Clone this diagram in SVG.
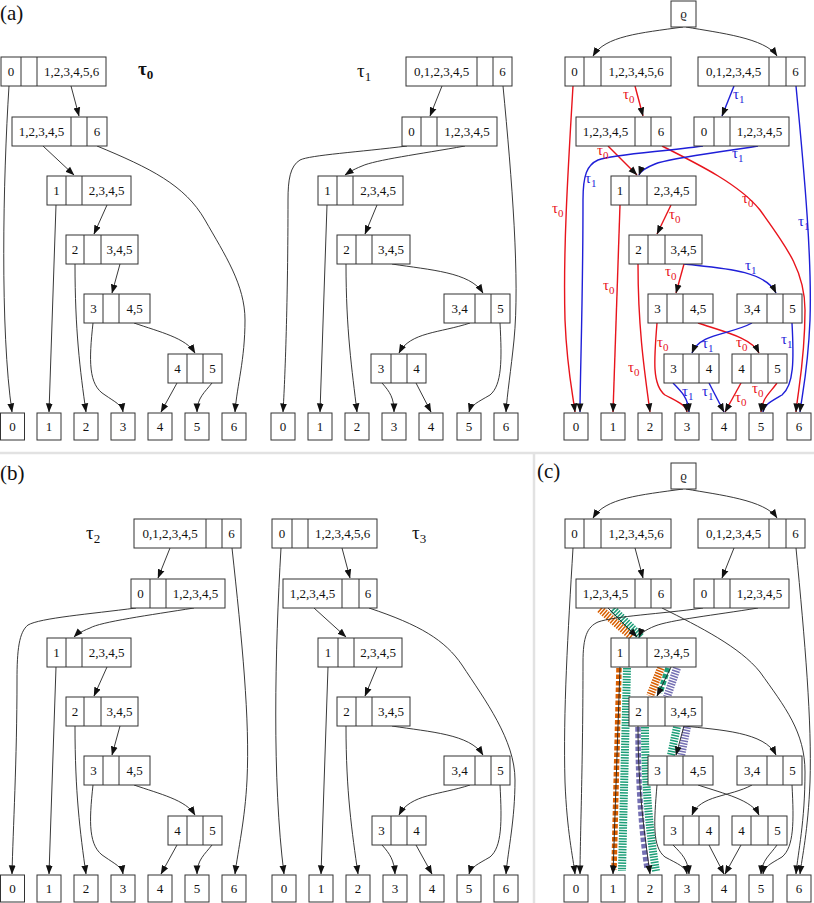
<svg xmlns="http://www.w3.org/2000/svg" width="814" height="903" viewBox="0 0 814 903" font-family="'Liberation Serif', 'DejaVu Serif', serif">
<defs>
<marker id="ah" viewBox="0 0 10 10" refX="9.5" refY="5" markerWidth="9" markerHeight="9" markerUnits="userSpaceOnUse" orient="auto"><path d="M0,1.2 L10,5 L0,8.8 z" fill="#111"/></marker>
<style>
.box{fill:#fff;stroke:#333;stroke-width:1}
.dv{fill:none;stroke:#333;stroke-width:1}
.t{font-family:'Liberation Serif','DejaVu Serif',serif;font-size:13px;text-anchor:middle;fill:#111}
.pl{font-family:'Liberation Serif','DejaVu Serif',serif;font-size:21px;fill:#111}
.tau{font-family:'Liberation Serif','DejaVu Serif',serif;font-size:19px;fill:#111}
.e{fill:none;stroke:#222;stroke-width:0.9;marker-end:url(#ah)}
.r{stroke:#e8141c;stroke-width:1.4}
.b{stroke:#1f1fd8;stroke-width:1.4}
.lr{font-family:'Liberation Serif','DejaVu Serif',serif;font-size:15px;fill:#e8141c}
.lb{font-family:'Liberation Serif','DejaVu Serif',serif;font-size:15px;fill:#1f1fd8}
.hat{fill:none;stroke-width:8;stroke-dasharray:1.5 1.2}
.sq{fill:none;stroke-width:5.5;stroke-dasharray:4.5 2}
.or{stroke:#d95f02}.gr{stroke:#1b9e77}.pu{stroke:#7570b3}
.sep{stroke:#e2e2e2;stroke-width:2.5;fill:none}
</style>
</defs>
<rect width="814" height="903" fill="#fff"/>
<g id="separators"><path class="sep" d="M0,453 H814 M534,453 V903"/></g>
<g id="panel-labels">
<text class="pl" x="0" y="20">(a)</text>
<text class="pl" x="0" y="480">(b)</text>
<text class="pl" x="537" y="478">(c)</text>
<text class="tau" x="138" y="75" font-weight="bold">τ<tspan dy="4" font-size="13">0</tspan></text>
<text class="tau" x="357" y="77">τ<tspan dy="4" font-size="13">1</tspan></text>
<text class="tau" x="86" y="539">τ<tspan dy="4" font-size="13">2</tspan></text>
<text class="tau" x="412" y="539">τ<tspan dy="4" font-size="13">3</tspan></text>
</g>

<!-- ========== connectors ========== -->
<g id="connectors">
<g id="c-tau0">
<path class="e" d="M9,86 C3,180 0,330 12,412"/>
<path class="e" d="M71,86 L79,116"/>
<path class="e" d="M43,146 L74,175"/>
<path class="e" d="M97,146 C150,168 185,185 205,220 C225,255 245,285 245,320 C245,360 237,385 235,412"/>
<path class="e" d="M56,205 L49,412"/>
<path class="e" d="M107,205 L94,234"/>
<path class="e" d="M75,264 C75,330 80,370 86,412"/>
<path class="e" d="M120,264 L112,293"/>
<path class="e" d="M93,323 C89,360 88,385 105,395 C115,402 122,405 123,412"/>
<path class="e" d="M134,323 C160,332 186,338 195,353"/>
<path class="e" d="M177,383 L161,412"/>
<path class="e" d="M212,383 C205,392 197,398 197,412"/>
</g>
<g id="c-tau1">
<path class="e" d="M442,86 L430,116"/>
<path class="e" d="M503,86 C512,180 520,280 514,340 C511,370 507,395 506,412"/>
<path class="e" d="M407,146 C360,152 310,155 300,160 C290,166 288,180 288,200 C288,300 285,380 283,412"/>
<path class="e" d="M465,146 C420,154 375,160 362,166 C352,170 348,173 345,175"/>
<path class="e" d="M327,205 L320,412"/>
<path class="e" d="M377,205 L365,234"/>
<path class="e" d="M346,264 C346,330 352,370 357,412"/>
<path class="e" d="M392,264 C430,270 470,272 483,293"/>
<path class="e" d="M470,323 C440,333 410,332 399,353"/>
<path class="e" d="M500,323 C502,360 502,385 490,395 C478,402 471,405 469,412"/>
<path class="e" d="M382,383 C390,392 394,398 394,412"/>
<path class="e" d="M416,383 L431,412"/>
</g>
<g id="c-tr">
<path class="e" d="M683,27 C640,33 605,36 593,56"/>
<path class="e" d="M686,27 C720,33 765,38 777,56"/>
<path class="e r" d="M573,86 C568,170 563,250 565,320 C567,370 573,395 575,412"/>
<path class="e r" d="M635,86 L643,116"/>
<path class="e r" d="M608,146 L637,175"/>
<path class="e r" d="M662,146 C700,165 740,185 760,210 C785,245 805,270 805,310 C805,360 798,390 796,412"/>
<path class="e r" d="M620,205 L613,412"/>
<path class="e r" d="M671,205 L657,234"/>
<path class="e r" d="M638,264 C638,330 645,375 650,412"/>
<path class="e r" d="M684,264 L676,293"/>
<path class="e r" d="M657,323 C654,360 652,385 665,395 C678,402 686,405 687,412"/>
<path class="e r" d="M698,323 C725,332 752,338 759,353"/>
<path class="e r" d="M741,383 L725,412"/>
<path class="e r" d="M777,383 C770,393 762,398 761,412"/>
<path class="e b" d="M734,86 L722,116"/>
<path class="e b" d="M796,86 C805,180 812,260 810,320 C808,370 802,395 800,412"/>
<path class="e b" d="M703,146 C660,152 615,154 598,160 C587,165 583,175 583,200 C583,300 580,380 580,412"/>
<path class="e b" d="M758,146 C715,153 670,158 655,164 C645,168 640,172 639,175"/>
<path class="e b" d="M684,264 C720,268 765,270 776,293"/>
<path class="e b" d="M752,323 C730,335 700,333 692,353"/>
<path class="e b" d="M792,323 C794,360 794,385 782,395 C770,402 764,405 763,412"/>
<path class="e b" d="M673,383 C682,392 688,398 689,412"/>
<path class="e b" d="M709,383 L724,412"/>
</g>
<g id="c-tr-labels">
<text class="lr" x="552" y="213">τ<tspan dy="4" font-size="11">0</tspan></text>
<text class="lr" x="623" y="99">τ<tspan dy="4" font-size="11">0</tspan></text>
<text class="lr" x="597" y="155">τ<tspan dy="4" font-size="11">0</tspan></text>
<text class="lr" x="742" y="203">τ<tspan dy="4" font-size="11">0</tspan></text>
<text class="lr" x="669" y="219">τ<tspan dy="4" font-size="11">0</tspan></text>
<text class="lr" x="603" y="290">τ<tspan dy="4" font-size="11">0</tspan></text>
<text class="lr" x="628" y="372">τ<tspan dy="4" font-size="11">0</tspan></text>
<text class="lr" x="665" y="276">τ<tspan dy="4" font-size="11">0</tspan></text>
<text class="lr" x="657" y="347">τ<tspan dy="4" font-size="11">0</tspan></text>
<text class="lr" x="736" y="347">τ<tspan dy="4" font-size="11">0</tspan></text>
<text class="lr" x="735" y="402">τ<tspan dy="4" font-size="11">0</tspan></text>
<text class="lr" x="752" y="393">τ<tspan dy="4" font-size="11">0</tspan></text>
<text class="lb" x="733" y="99">τ<tspan dy="4" font-size="11">1</tspan></text>
<text class="lb" x="585" y="183">τ<tspan dy="4" font-size="11">1</tspan></text>
<text class="lb" x="732" y="158">τ<tspan dy="4" font-size="11">1</tspan></text>
<text class="lb" x="798" y="226">τ<tspan dy="4" font-size="11">1</tspan></text>
<text class="lb" x="745" y="270">τ<tspan dy="4" font-size="11">1</tspan></text>
<text class="lb" x="702" y="348">τ<tspan dy="4" font-size="11">1</tspan></text>
<text class="lb" x="781" y="344">τ<tspan dy="4" font-size="11">1</tspan></text>
<text class="lb" x="682" y="396">τ<tspan dy="4" font-size="11">1</tspan></text>
<text class="lb" x="702" y="396">τ<tspan dy="4" font-size="11">1</tspan></text>
</g>
<g id="c-tau2">
<path class="e" d="M170,548 L158,578"/>
<path class="e" d="M232,548 C242,640 250,720 247,780 C245,820 238,850 235,874"/>
<path class="e" d="M136,608 C90,614 40,618 28,625 C19,632 17,650 17,680 C17,760 13,830 12,874"/>
<path class="e" d="M194,608 C150,615 100,622 90,628 C80,632 76,635 74,637"/>
<g transform="translate(0,462)">
<path class="e" d="M56,205 L49,412"/>
<path class="e" d="M107,205 L94,234"/>
<path class="e" d="M75,264 C75,330 80,370 86,412"/>
<path class="e" d="M120,264 L112,293"/>
<path class="e" d="M93,323 C89,360 88,385 105,395 C115,402 122,405 123,412"/>
<path class="e" d="M134,323 C160,332 186,338 195,353"/>
<path class="e" d="M177,383 L161,412"/>
<path class="e" d="M212,383 C205,392 197,398 197,412"/>
</g>
</g>
<g id="c-tau3">
<path class="e" d="M281,548 C275,650 272,780 284,874"/>
<path class="e" d="M342,548 L350,578"/>
<path class="e" d="M314,608 L346,637"/>
<path class="e" d="M369,608 C420,625 445,640 462,665 C485,700 515,740 515,780 C515,820 508,850 506,874"/>
<g transform="translate(0,462)">
<path class="e" d="M328,205 L321,412"/>
<path class="e" d="M377,205 L365,234"/>
<path class="e" d="M346,264 C346,330 352,370 358,412"/>
<path class="e" d="M392,264 C430,270 470,272 483,293"/>
<path class="e" d="M470,323 C440,333 410,332 399,353"/>
<path class="e" d="M500,323 C502,360 502,385 490,395 C478,402 471,405 469,412"/>
<path class="e" d="M382,383 C390,392 394,398 395,412"/>
<path class="e" d="M416,383 L432,412"/>
</g>
</g>
<g id="c-bands">
<path class="hat or" d="M600,609 L632,637"/>
<path class="hat or" d="M661,668 L650,696"/>
<path class="sq or" d="M619,668 L614,870"/>
<path class="hat gr" d="M613,609 L641,637"/>
<path class="hat gr" d="M627,668 L622,871"/>
<path class="hat gr" d="M645,727 C645,790 650,835 656,871"/>
<path class="hat gr" d="M677,727 L671,755"/>
<path class="sq gr" d="M668,668 L660,693"/>
<path class="hat pu" d="M677,668 L667,697"/>
<path class="hat pu" d="M687,727 L681,756"/>
<path class="sq pu" d="M638,727 C638,790 642,835 647,868"/>
</g>
<g id="c-c" transform="translate(0,462)">
<path class="e" d="M683,27 C640,33 605,36 593,56"/>
<path class="e" d="M686,27 C720,33 765,38 777,56"/>
<path class="e" d="M573,86 C568,170 563,250 565,320 C567,370 573,395 575,412"/>
<path class="e" d="M635,86 L643,116"/>
<path class="e" d="M608,146 L637,175"/>
<path class="e" d="M662,146 C700,165 740,185 760,210 C785,245 805,270 805,310 C805,360 798,390 796,412"/>
<path class="e" d="M620,205 L613,412"/>
<path class="e" d="M671,205 L657,234"/>
<path class="e" d="M638,264 C638,330 645,375 650,412"/>
<path class="e" d="M684,264 L676,293"/>
<path class="e" d="M657,323 C654,360 652,385 665,395 C678,402 686,405 687,412"/>
<path class="e" d="M698,323 C725,332 752,338 759,353"/>
<path class="e" d="M741,383 L725,412"/>
<path class="e" d="M777,383 C770,393 762,398 761,412"/>
<path class="e" d="M734,86 L722,116"/>
<path class="e" d="M796,86 C805,180 812,260 810,320 C808,370 802,395 800,412"/>
<path class="e" d="M703,146 C660,152 615,154 598,160 C587,165 583,175 583,200 C583,300 580,380 580,412"/>
<path class="e" d="M758,146 C715,153 670,158 655,164 C645,168 640,172 639,175"/>
<path class="e" d="M684,264 C720,268 765,270 776,293"/>
<path class="e" d="M752,323 C730,335 700,333 692,353"/>
<path class="e" d="M792,323 C794,360 794,385 782,395 C770,402 764,405 763,412"/>
<path class="e" d="M673,383 C682,392 688,398 689,412"/>
<path class="e" d="M709,383 L724,412"/>
</g>
</g>

<g id="t0-n1"><rect class="box" x="1" y="57" width="105" height="29"/><path class="dv" d="M21,57v29M37,57v29"/><text class="t" x="11" y="76">0</text><text class="t" x="71.5" y="76">1,2,3,4,5,6</text></g>
<g id="t0-n2"><rect class="box" x="12" y="117" width="95" height="29"/><path class="dv" d="M71,117v29M87,117v29"/><text class="t" x="41.5" y="136">1,2,3,4,5</text><text class="t" x="97" y="136">6</text></g>
<g id="t0-n3"><rect class="box" x="47" y="176" width="84" height="29"/><path class="dv" d="M66,176v29M82,176v29"/><text class="t" x="56.5" y="195">1</text><text class="t" x="106.5" y="195">2,3,4,5</text></g>
<g id="t0-n4"><rect class="box" x="66" y="235" width="72" height="29"/><path class="dv" d="M84,235v29M101,235v29"/><text class="t" x="75" y="254">2</text><text class="t" x="119.5" y="254">3,4,5</text></g>
<g id="t0-n5"><rect class="box" x="84" y="294" width="66" height="29"/><path class="dv" d="M103,294v29M119,294v29"/><text class="t" x="93.5" y="313">3</text><text class="t" x="134.5" y="313">4,5</text></g>
<g id="t0-n6"><rect class="box" x="168" y="354" width="54" height="29"/><path class="dv" d="M187,354v29M203,354v29"/><text class="t" x="177.5" y="373">4</text><text class="t" x="212.5" y="373">5</text></g>
<g id="t0-l0"><rect class="box" x="0.5" y="413" width="24" height="27"/><text class="t" x="12.5" y="431">0</text></g>
<g id="t0-l1"><rect class="box" x="37" y="413" width="24" height="27"/><text class="t" x="49" y="431">1</text></g>
<g id="t0-l2"><rect class="box" x="74" y="413" width="24" height="27"/><text class="t" x="86" y="431">2</text></g>
<g id="t0-l3"><rect class="box" x="111" y="413" width="24" height="27"/><text class="t" x="123" y="431">3</text></g>
<g id="t0-l4"><rect class="box" x="148" y="413" width="24" height="27"/><text class="t" x="160" y="431">4</text></g>
<g id="t0-l5"><rect class="box" x="185" y="413" width="24" height="27"/><text class="t" x="197" y="431">5</text></g>
<g id="t0-l6"><rect class="box" x="222" y="413" width="24" height="27"/><text class="t" x="234" y="431">6</text></g>

<g id="t1-n1"><rect class="box" x="406" y="57" width="106" height="29"/><path class="dv" d="M477,57v29M493,57v29"/><text class="t" x="441.5" y="76">0,1,2,3,4,5</text><text class="t" x="502.5" y="76">6</text></g>
<g id="t1-n2"><rect class="box" x="402" y="117" width="95" height="29"/><path class="dv" d="M421,117v29M437,117v29"/><text class="t" x="411.5" y="136">0</text><text class="t" x="467" y="136">1,2,3,4,5</text></g>
<g id="t1-n3"><rect class="box" x="318" y="176" width="85" height="29"/><path class="dv" d="M337,176v29M353,176v29"/><text class="t" x="327.5" y="195">1</text><text class="t" x="378" y="195">2,3,4,5</text></g>
<g id="t1-n4"><rect class="box" x="337" y="235" width="73" height="29"/><path class="dv" d="M356,235v29M372,235v29"/><text class="t" x="346.5" y="254">2</text><text class="t" x="391" y="254">3,4,5</text></g>
<g id="t1-n5"><rect class="box" x="444" y="294" width="66" height="29"/><path class="dv" d="M475,294v29M491,294v29"/><text class="t" x="459.5" y="313">3,4</text><text class="t" x="500.5" y="313">5</text></g>
<g id="t1-n6"><rect class="box" x="371" y="354" width="55" height="29"/><path class="dv" d="M391,354v29M407,354v29"/><text class="t" x="381" y="373">3</text><text class="t" x="416.5" y="373">4</text></g>
<g id="t1-l0"><rect class="box" x="271" y="413" width="24" height="27"/><text class="t" x="283" y="431">0</text></g>
<g id="t1-l1"><rect class="box" x="308" y="413" width="24" height="27"/><text class="t" x="320" y="431">1</text></g>
<g id="t1-l2"><rect class="box" x="345" y="413" width="24" height="27"/><text class="t" x="357" y="431">2</text></g>
<g id="t1-l3"><rect class="box" x="382" y="413" width="24" height="27"/><text class="t" x="394" y="431">3</text></g>
<g id="t1-l4"><rect class="box" x="419" y="413" width="24" height="27"/><text class="t" x="431" y="431">4</text></g>
<g id="t1-l5"><rect class="box" x="457" y="413" width="24" height="27"/><text class="t" x="469" y="431">5</text></g>
<g id="t1-l6"><rect class="box" x="494" y="413" width="24" height="27"/><text class="t" x="506" y="431">6</text></g>

<g id="tr-rho"><rect class="box" x="671" y="1" width="25" height="26"/><text class="t" x="683.5" y="18">ϱ</text></g>
<g id="tr-la"><rect class="box" x="565" y="57" width="106" height="29"/><path class="dv" d="M584,57v29M601,57v29"/><text class="t" x="574.5" y="76">0</text><text class="t" x="636" y="76">1,2,3,4,5,6</text></g>
<g id="tr-ra"><rect class="box" x="698" y="57" width="107" height="29"/><path class="dv" d="M769,57v29M786,57v29"/><text class="t" x="733.5" y="76">0,1,2,3,4,5</text><text class="t" x="795.5" y="76">6</text></g>
<g id="tr-lb"><rect class="box" x="576" y="117" width="95" height="29"/><path class="dv" d="M635,117v29M651,117v29"/><text class="t" x="605.5" y="136">1,2,3,4,5</text><text class="t" x="661" y="136">6</text></g>
<g id="tr-rb"><rect class="box" x="694" y="117" width="95" height="29"/><path class="dv" d="M714,117v29M730,117v29"/><text class="t" x="704" y="136">0</text><text class="t" x="759.5" y="136">1,2,3,4,5</text></g>
<g id="tr-c"><rect class="box" x="611" y="176" width="85" height="29"/><path class="dv" d="M629,176v29M647,176v29"/><text class="t" x="620" y="195">1</text><text class="t" x="671.5" y="195">2,3,4,5</text></g>
<g id="tr-d"><rect class="box" x="629" y="235" width="73" height="29"/><path class="dv" d="M648,235v29M665,235v29"/><text class="t" x="638.5" y="254">2</text><text class="t" x="683.5" y="254">3,4,5</text></g>
<g id="tr-e1"><rect class="box" x="648" y="294" width="65" height="29"/><path class="dv" d="M667,294v29M683,294v29"/><text class="t" x="657.5" y="313">3</text><text class="t" x="698" y="313">4,5</text></g>
<g id="tr-e2"><rect class="box" x="737" y="294" width="65" height="29"/><path class="dv" d="M767,294v29M783,294v29"/><text class="t" x="752" y="313">3,4</text><text class="t" x="792.5" y="313">5</text></g>
<g id="tr-f1"><rect class="box" x="664" y="354" width="55" height="29"/><path class="dv" d="M683,354v29M699,354v29"/><text class="t" x="673.5" y="373">3</text><text class="t" x="709" y="373">4</text></g>
<g id="tr-f2"><rect class="box" x="732" y="354" width="55" height="29"/><path class="dv" d="M751,354v29M768,354v29"/><text class="t" x="741.5" y="373">4</text><text class="t" x="777.5" y="373">5</text></g>
<g id="tr-l0"><rect class="box" x="564" y="413" width="24" height="27"/><text class="t" x="576" y="431">0</text></g>
<g id="tr-l1"><rect class="box" x="601" y="413" width="24" height="27"/><text class="t" x="613" y="431">1</text></g>
<g id="tr-l2"><rect class="box" x="638" y="413" width="24" height="27"/><text class="t" x="650" y="431">2</text></g>
<g id="tr-l3"><rect class="box" x="675" y="413" width="24" height="27"/><text class="t" x="687" y="431">3</text></g>
<g id="tr-l4"><rect class="box" x="712" y="413" width="24" height="27"/><text class="t" x="724" y="431">4</text></g>
<g id="tr-l5"><rect class="box" x="749" y="413" width="24" height="27"/><text class="t" x="761" y="431">5</text></g>
<g id="tr-l6"><rect class="box" x="787" y="413" width="24" height="27"/><text class="t" x="799" y="431">6</text></g>

<g id="t2-n1"><rect class="box" x="134" y="519" width="107" height="29"/><path class="dv" d="M206,519v29M222,519v29"/><text class="t" x="170" y="538">0,1,2,3,4,5</text><text class="t" x="231.5" y="538">6</text></g>
<g id="t2-n2"><rect class="box" x="131" y="579" width="94" height="29"/><path class="dv" d="M150,579v29M166,579v29"/><text class="t" x="140.5" y="598">0</text><text class="t" x="195.5" y="598">1,2,3,4,5</text></g>
<g id="t2-n3"><rect class="box" x="47" y="638" width="84" height="29"/><path class="dv" d="M66,638v29M82,638v29"/><text class="t" x="56.5" y="657">1</text><text class="t" x="106.5" y="657">2,3,4,5</text></g>
<g id="t2-n4"><rect class="box" x="66" y="697" width="72" height="29"/><path class="dv" d="M84,697v29M101,697v29"/><text class="t" x="75" y="716">2</text><text class="t" x="119.5" y="716">3,4,5</text></g>
<g id="t2-n5"><rect class="box" x="84" y="756" width="66" height="29"/><path class="dv" d="M103,756v29M119,756v29"/><text class="t" x="93.5" y="775">3</text><text class="t" x="134.5" y="775">4,5</text></g>
<g id="t2-n6"><rect class="box" x="168" y="816" width="54" height="29"/><path class="dv" d="M187,816v29M203,816v29"/><text class="t" x="177.5" y="835">4</text><text class="t" x="212.5" y="835">5</text></g>
<g id="t2-l0"><rect class="box" x="0.5" y="875" width="24" height="27"/><text class="t" x="12.5" y="893">0</text></g>
<g id="t2-l1"><rect class="box" x="37" y="875" width="24" height="27"/><text class="t" x="49" y="893">1</text></g>
<g id="t2-l2"><rect class="box" x="74" y="875" width="24" height="27"/><text class="t" x="86" y="893">2</text></g>
<g id="t2-l3"><rect class="box" x="111" y="875" width="24" height="27"/><text class="t" x="123" y="893">3</text></g>
<g id="t2-l4"><rect class="box" x="148" y="875" width="24" height="27"/><text class="t" x="160" y="893">4</text></g>
<g id="t2-l5"><rect class="box" x="185" y="875" width="24" height="27"/><text class="t" x="197" y="893">5</text></g>
<g id="t2-l6"><rect class="box" x="222" y="875" width="24" height="27"/><text class="t" x="234" y="893">6</text></g>

<g id="t3-n1"><rect class="box" x="272" y="519" width="105" height="29"/><path class="dv" d="M292,519v29M308,519v29"/><text class="t" x="282" y="538">0</text><text class="t" x="342.5" y="538">1,2,3,4,5,6</text></g>
<g id="t3-n2"><rect class="box" x="283" y="579" width="94" height="29"/><path class="dv" d="M342,579v29M359,579v29"/><text class="t" x="312.5" y="598">1,2,3,4,5</text><text class="t" x="368" y="598">6</text></g>
<g id="t3-n3"><rect class="box" x="318" y="638" width="84" height="29"/><path class="dv" d="M338,638v29M354,638v29"/><text class="t" x="328" y="657">1</text><text class="t" x="378" y="657">2,3,4,5</text></g>
<g id="t3-n4"><rect class="box" x="337" y="697" width="73" height="29"/><path class="dv" d="M356,697v29M372,697v29"/><text class="t" x="346.5" y="716">2</text><text class="t" x="391" y="716">3,4,5</text></g>
<g id="t3-n5"><rect class="box" x="444" y="756" width="66" height="29"/><path class="dv" d="M475,756v29M491,756v29"/><text class="t" x="459.5" y="775">3,4</text><text class="t" x="500.5" y="775">5</text></g>
<g id="t3-n6"><rect class="box" x="372" y="816" width="54" height="29"/><path class="dv" d="M391,816v29M407,816v29"/><text class="t" x="381.5" y="835">3</text><text class="t" x="416.5" y="835">4</text></g>
<g id="t3-l0"><rect class="box" x="272" y="875" width="24" height="27"/><text class="t" x="284" y="893">0</text></g>
<g id="t3-l1"><rect class="box" x="309" y="875" width="24" height="27"/><text class="t" x="321" y="893">1</text></g>
<g id="t3-l2"><rect class="box" x="346" y="875" width="24" height="27"/><text class="t" x="358" y="893">2</text></g>
<g id="t3-l3"><rect class="box" x="383" y="875" width="24" height="27"/><text class="t" x="395" y="893">3</text></g>
<g id="t3-l4"><rect class="box" x="420" y="875" width="24" height="27"/><text class="t" x="432" y="893">4</text></g>
<g id="t3-l5"><rect class="box" x="457" y="875" width="24" height="27"/><text class="t" x="469" y="893">5</text></g>
<g id="t3-l6"><rect class="box" x="494" y="875" width="24" height="27"/><text class="t" x="506" y="893">6</text></g>

<g id="c-rho"><rect class="box" x="671" y="463" width="25" height="26"/><text class="t" x="683.5" y="480">ϱ</text></g>
<g id="c-la"><rect class="box" x="565" y="519" width="106" height="29"/><path class="dv" d="M584,519v29M601,519v29"/><text class="t" x="574.5" y="538">0</text><text class="t" x="636" y="538">1,2,3,4,5,6</text></g>
<g id="c-ra"><rect class="box" x="698" y="519" width="107" height="29"/><path class="dv" d="M769,519v29M786,519v29"/><text class="t" x="733.5" y="538">0,1,2,3,4,5</text><text class="t" x="795.5" y="538">6</text></g>
<g id="c-lb"><rect class="box" x="576" y="579" width="95" height="29"/><path class="dv" d="M635,579v29M651,579v29"/><text class="t" x="605.5" y="598">1,2,3,4,5</text><text class="t" x="661" y="598">6</text></g>
<g id="c-rb"><rect class="box" x="694" y="579" width="95" height="29"/><path class="dv" d="M714,579v29M730,579v29"/><text class="t" x="704" y="598">0</text><text class="t" x="759.5" y="598">1,2,3,4,5</text></g>
<g id="c-c1"><rect class="box" x="611" y="638" width="85" height="29"/><path class="dv" d="M629,638v29M647,638v29"/><text class="t" x="620" y="657">1</text><text class="t" x="671.5" y="657">2,3,4,5</text></g>
<g id="c-d"><rect class="box" x="629" y="697" width="73" height="29"/><path class="dv" d="M648,697v29M665,697v29"/><text class="t" x="638.5" y="716">2</text><text class="t" x="683.5" y="716">3,4,5</text></g>
<g id="c-e1"><rect class="box" x="648" y="756" width="65" height="29"/><path class="dv" d="M667,756v29M683,756v29"/><text class="t" x="657.5" y="775">3</text><text class="t" x="698" y="775">4,5</text></g>
<g id="c-e2"><rect class="box" x="737" y="756" width="65" height="29"/><path class="dv" d="M767,756v29M783,756v29"/><text class="t" x="752" y="775">3,4</text><text class="t" x="792.5" y="775">5</text></g>
<g id="c-f1"><rect class="box" x="664" y="816" width="55" height="29"/><path class="dv" d="M683,816v29M699,816v29"/><text class="t" x="673.5" y="835">3</text><text class="t" x="709" y="835">4</text></g>
<g id="c-f2"><rect class="box" x="732" y="816" width="55" height="29"/><path class="dv" d="M751,816v29M768,816v29"/><text class="t" x="741.5" y="835">4</text><text class="t" x="777.5" y="835">5</text></g>
<g id="c-l0"><rect class="box" x="564" y="875" width="24" height="27"/><text class="t" x="576" y="893">0</text></g>
<g id="c-l1"><rect class="box" x="601" y="875" width="24" height="27"/><text class="t" x="613" y="893">1</text></g>
<g id="c-l2"><rect class="box" x="638" y="875" width="24" height="27"/><text class="t" x="650" y="893">2</text></g>
<g id="c-l3"><rect class="box" x="675" y="875" width="24" height="27"/><text class="t" x="687" y="893">3</text></g>
<g id="c-l4"><rect class="box" x="712" y="875" width="24" height="27"/><text class="t" x="724" y="893">4</text></g>
<g id="c-l5"><rect class="box" x="749" y="875" width="24" height="27"/><text class="t" x="761" y="893">5</text></g>
<g id="c-l6"><rect class="box" x="787" y="875" width="24" height="27"/><text class="t" x="799" y="893">6</text></g>
</svg>
